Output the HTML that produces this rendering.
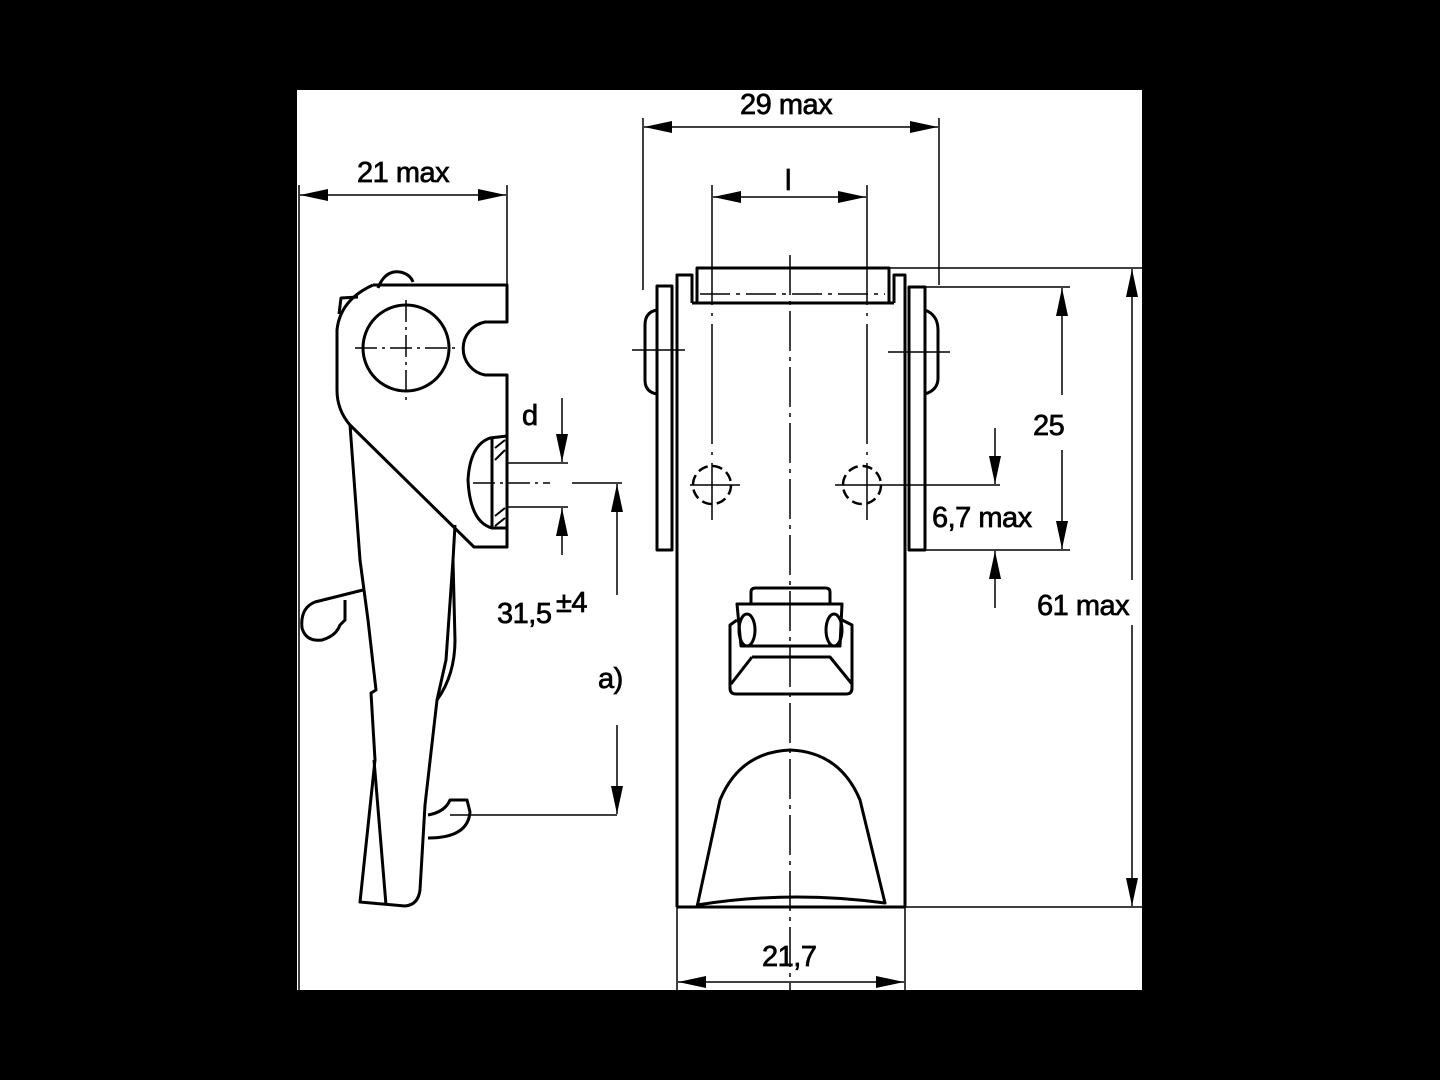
<!DOCTYPE html>
<html><head><meta charset="utf-8"><style>
html,body{margin:0;padding:0;background:#000;}
svg{display:block}
text{font-family:"Liberation Sans",sans-serif;font-size:29px;fill:#000;stroke:#000;stroke-width:0.7;letter-spacing:-0.5px}
</style></head><body>
<svg width="1440" height="1080" viewBox="0 0 1440 1080" xmlns="http://www.w3.org/2000/svg">
<defs>
<marker id="a" markerUnits="userSpaceOnUse" markerWidth="30" markerHeight="14" refX="28" refY="6" orient="auto"><path d="M0,0 L28,6 L0,12 Z" fill="#000"/></marker>
</defs>
<rect x="0" y="0" width="1440" height="1080" fill="#000"/>
<rect x="297" y="90" width="845" height="900" fill="#fff"/>
<g fill="none" stroke="#000" stroke-width="1.5">
<line x1="299" y1="185" x2="299" y2="990"/>
<line x1="507" y1="185" x2="507" y2="285"/>
<line x1="330" y1="195" x2="300" y2="195" marker-end="url(#a)"/>
<line x1="475" y1="195" x2="506" y2="195" marker-end="url(#a)"/>
<line x1="330" y1="195" x2="475" y2="195"/>
<line x1="507" y1="463" x2="568" y2="463"/>
<line x1="507" y1="507" x2="568" y2="507"/>
<line x1="562" y1="398" x2="562" y2="462" marker-end="url(#a)"/>
<line x1="562" y1="555" x2="562" y2="508" marker-end="url(#a)"/>
<line x1="572" y1="483" x2="622" y2="483"/>
<line x1="450" y1="815" x2="617" y2="815"/>
<line x1="617" y1="595" x2="617" y2="484" marker-end="url(#a)"/>
<line x1="617" y1="725" x2="617" y2="814" marker-end="url(#a)"/>
<line x1="355" y1="348" x2="460" y2="348" stroke-dasharray="22,5,3,5"/>
<line x1="406" y1="300" x2="406" y2="405" stroke-dasharray="22,5,3,5"/>
<line x1="473" y1="483" x2="550" y2="483" stroke-dasharray="22,5,3,5"/>
</g>
<g fill="none" stroke="#000" stroke-width="3" stroke-linejoin="round">
<path d="M373,285 L507,285 L507,322 L485,322 A27,27 0 0 0 485,375 L507,375 L507,547 L474,547 L350,425 Q337,410 337,390 L337,330 Q340,300 373,285"/>
<path d="M339,314 L341,298 L358,297"/>
<path d="M378,288 Q385,270 400,272 Q410,274 413,282"/>
<circle cx="406" cy="348" r="43"/>
<path d="M507,436 L490,438 Q470,445 468,480 Q470,522 492,528 L507,528"/>
<line x1="492" y1="438" x2="492" y2="528"/>
<path d="M495,448 L505,440 M495,460 L505,450 M495,516 L505,508 M495,526 L505,518" stroke-width="2"/>
<path d="M350,425 L360,560 L368,620 L376,690 L371,693 L375,760 L360,902 L405,906 Q418,905 420,890 L425,805 L437,700 L446,660 L453,560 L455,525"/>
<path d="M437,700 Q455,675 455,640 L453,560"/>
<path d="M374,760 L386,905"/>
<path d="M428,815 Q445,812 450,800 L467,800 L470,812 Q468,838 428,838"/>
<path d="M363,590 L315,602 Q300,608 302,628 Q306,642 322,640 Q336,636 340,625 L345,620 L345,600"/>
<rect x="697" y="268" width="192" height="35"/>
<path d="M692,303 L692,275 L677,275 L677,907 M894,303 L894,275 L905,275 L905,907"/>
<line x1="692" y1="303" x2="894" y2="303"/>
<rect x="657" y="286" width="15" height="264"/>
<rect x="909" y="287" width="16" height="263"/>
<path d="M657,310 Q645,312 645,325 L645,380 Q645,392 657,394"/>
<path d="M925,310 Q938,315 938,330 L938,378 Q938,390 925,394"/>
<path d="M697,907 L720,800 Q740,752 790,750 Q840,752 860,800 L885,903 Q790,890 697,905"/>
<line x1="677" y1="907" x2="905" y2="907"/>
<path d="M751,604 L751,592 Q751,588 756,588 L825,588 Q830,588 830,592 L830,604"/>
<path d="M737,604 L842,604 L840,646 L741,646 Z"/>
<path d="M737,620 L730,625 L730,688 Q730,694 736,694 L846,694 Q852,694 852,688 L852,625 L842,620"/>
<path d="M752,657 L830,657 L852,684 M752,657 L731,684"/>
<ellipse cx="747" cy="630" rx="8" ry="16"/>
<ellipse cx="834" cy="630" rx="8" ry="16"/>
</g>
<g fill="none" stroke="#000" stroke-width="2.5" stroke-dasharray="10,5">
<circle cx="712" cy="485" r="19"/>
<circle cx="862" cy="485" r="19"/>
</g>
<g fill="none" stroke="#000" stroke-width="1.5">
<line x1="790" y1="255" x2="790" y2="995" stroke-dasharray="40,6,4,6"/>
<line x1="700" y1="294" x2="885" y2="294" stroke-dasharray="30,6,4,6"/>
<line x1="712" y1="185" x2="712" y2="520" stroke-dasharray="120,8,3,8"/>
<line x1="867" y1="185" x2="867" y2="520" stroke-dasharray="120,8,3,8"/>
<line x1="690" y1="485" x2="740" y2="485"/><line x1="835" y1="485" x2="1000" y2="485"/>
<line x1="632" y1="350" x2="685" y2="350"/><line x1="888" y1="352" x2="950" y2="352"/>
<line x1="643" y1="118" x2="643" y2="290"/>
<line x1="939" y1="118" x2="939" y2="285"/>
<line x1="680" y1="127" x2="644" y2="127" marker-end="url(#a)"/>
<line x1="905" y1="127" x2="938" y2="127" marker-end="url(#a)"/>
<line x1="680" y1="127" x2="905" y2="127"/>
<line x1="745" y1="197" x2="713" y2="197" marker-end="url(#a)"/>
<line x1="835" y1="197" x2="866" y2="197" marker-end="url(#a)"/>
<line x1="745" y1="197" x2="835" y2="197"/>
<line x1="889" y1="268" x2="1142" y2="268"/>
<line x1="925" y1="287" x2="1070" y2="287"/>
<line x1="925" y1="550" x2="1070" y2="550"/>
<line x1="905" y1="907" x2="1142" y2="907"/>
<line x1="1062" y1="395" x2="1062" y2="288" marker-end="url(#a)"/>
<line x1="1062" y1="450" x2="1062" y2="549" marker-end="url(#a)"/>
<line x1="1132" y1="580" x2="1132" y2="269" marker-end="url(#a)"/>
<line x1="1132" y1="625" x2="1132" y2="906" marker-end="url(#a)"/>
<line x1="995" y1="428" x2="995" y2="484" marker-end="url(#a)"/>
<line x1="995" y1="608" x2="995" y2="551" marker-end="url(#a)"/>
<line x1="677" y1="907" x2="677" y2="990"/>
<line x1="905" y1="907" x2="905" y2="990"/>
<line x1="710" y1="982" x2="678" y2="982" marker-end="url(#a)"/>
<line x1="870" y1="982" x2="904" y2="982" marker-end="url(#a)"/>
<line x1="710" y1="982" x2="870" y2="982"/>
</g>
<text x="357" y="182">21 max</text>
<text x="740" y="114">29 max</text>
<text x="785" y="190">l</text>
<text x="522" y="425">d</text>
<text x="497" y="623">31,5</text><text x="556" y="612" font-size="24">±4</text>
<text x="598" y="688">a)</text>
<text x="1033" y="435">25</text>
<text x="932" y="527">6,7 max</text>
<text x="1037" y="615">61 max</text>
<text x="762" y="966">21,7</text>
</svg>
</body></html>
